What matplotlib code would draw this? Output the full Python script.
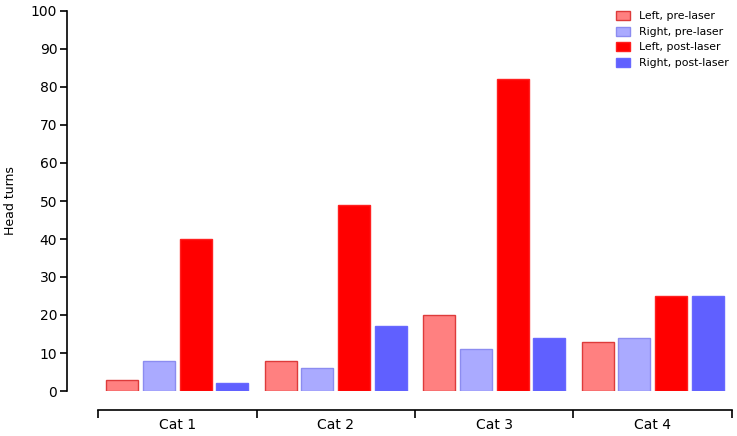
import numpy as np
import matplotlib.pyplot as plt

categories = ['Cat 1', 'Cat 2', 'Cat 3', 'Cat 4']
series = ['Left, pre-laser', 'Right, pre-laser', 'Left, post-laser', 'Right, post-laser']
left_pre = [3, 8, 20, 13]
right_pre = [8, 6, 11, 14]
left_post = [40, 49, 82, 25]
right_post = [2, 17, 14, 25]

values = [left_pre, right_pre, left_post, right_post]
fills = ['#ff8080', '#aaaaff', '#ff0000', '#6060ff']
edges = ['#dd3b3b', '#8c8cf0', '#ff2020', '#6868ff']

plt.rcParams['font.family'] = 'DejaVu Sans'
fig = plt.figure(figsize=(7.37, 4.36), dpi=100)
ax = fig.add_axes([98 / 737, 45 / 436, 634 / 737, 380 / 436])

x = np.arange(len(categories)) + 0.5
step = 0.2315
width = 0.202
for i, (vals, fc, ec, name) in enumerate(zip(values, fills, edges, series)):
    ax.bar(x + (i - 1.5) * step, vals, width, color=fc, edgecolor=ec,
           linewidth=1, label=name)

ax.set_xlim(0, 4)
ax.set_ylim(0, 100)
ax.spines['top'].set_visible(False)
ax.spines['right'].set_visible(False)
ax.spines['left'].set_position(('outward', 22.3))
ax.spines['bottom'].set_position(('outward', 13.7))
ax.spines['left'].set_linewidth(1.2)
ax.spines['bottom'].set_linewidth(1.2)

ax.set_yticks(range(0, 101, 10))
ax.tick_params(axis='y', direction='out', length=5, width=1.2, labelsize=10, pad=2)
ax.set_xticks(range(0, 5))
ax.set_xticklabels([])
ax.set_xticks(x, minor=True)
ax.set_xticklabels(categories, minor=True)
ax.tick_params(axis='x', which='major', direction='out', length=5.8, width=1.2)
ax.tick_params(axis='x', which='minor', length=0, labelsize=10, pad=5.5)
ax.set_ylabel('Head turns', fontsize=9, labelpad=10)

ax.legend(loc='upper right', bbox_to_anchor=(734 / 737, 1 - 6 / 436),
          bbox_transform=fig.transFigure, frameon=False, fontsize=7.8,
          handlelength=1.3, handleheight=0.85, labelspacing=0.5, handletextpad=0.8,
          borderpad=0)

fig.savefig('out.png', dpi=100)
